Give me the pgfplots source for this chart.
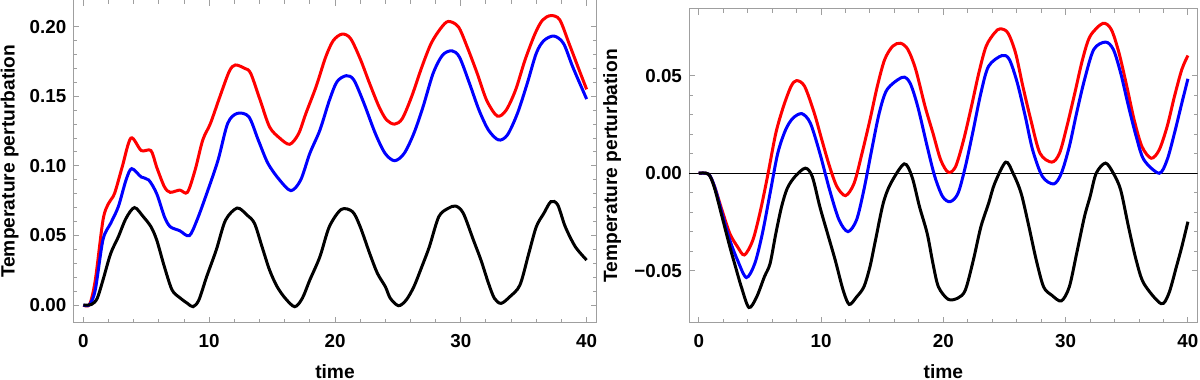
\documentclass[border=0pt]{standalone}
\usepackage{fontspec}
\setmainfont{Liberation Sans}
\usepackage{pgfplots}
\pgfplotsset{compat=1.18}

\pgfplotsset{
  mma/.style={
    scale only axis,
    anchor=south west,
    xmin=-0.8, xmax=40.8,
    xtick={0,10,20,30,40},
    xticklabels={0,10,20,30,40},
    minor x tick num=4,
    minor y tick num=4,
    tick align=inside,
    axis line style={draw=gray!75, line width=0.5pt},
    tick style={draw=gray!75, line width=0.5pt},
    major tick length=2.8pt, minor tick length=1.8pt,
    tick label style={font=\fontsize{9.4}{11}\selectfont\bfseries},
    xticklabel style={anchor=base, yshift=-12.2pt},
    label style={font=\fontsize{9.6}{11}\selectfont\bfseries},
    xlabel={time},
    xlabel style={at={(axis description cs:0.5,0)}, anchor=base, yshift=-27.7pt},
    ylabel={Temperature perturbation},
    every axis plot/.append style={smooth, line width=1.5pt, no markers},
  }
}

\begin{document}
\begin{tikzpicture}
\path[use as bounding box] (0,0) rectangle (600pt,190pt);

% left panel
\begin{axis}[mma,
  at={(36.65pt,28.65pt)}, width=261.7pt, height=161.35pt,
  ymin=-0.0127, ymax=0.2192,
  ytick={0,0.05,0.10,0.15,0.20},
  yticklabels={0.00,0.05,0.10,0.15,0.20},
  ylabel style={at={(axis description cs:-0.1123,0.5)}, anchor=base},
]
\addplot[red] coordinates {
(0,0) (0.5,0.0005) (0.95,0.018) (1.56,0.061) (2.0,0.073) (2.47,0.080) (3.08,0.099)
(3.78,0.120) (4.6,0.111) (5.37,0.111) (5.83,0.099) (6.44,0.085) (6.9,0.081)
(7.66,0.0826) (8.27,0.081) (8.88,0.097) (9.49,0.1186) (10.1,0.1305) (10.86,0.150)
(11.6,0.168) (12.08,0.1725) (12.84,0.170) (13.3,0.1665) (14.06,0.147) (14.8,0.128)
(15.6,0.120) (16.4,0.1155) (17.1,0.123) (17.7,0.138) (18.5,0.157) (19.25,0.178)
(19.86,0.190) (20.56,0.1947) (21.23,0.1916) (22.0,0.177) (22.76,0.159) (23.5,0.1425)
(24.1,0.133) (24.74,0.130) (25.35,0.134) (26.1,0.150) (26.9,0.171) (27.64,0.188)
(28.4,0.1988) (29.0,0.2038) (29.8,0.200) (30.5,0.1856) (31.3,0.1665) (32.06,0.147)
(32.9,0.1358) (33.6,0.140) (34.35,0.1545) (35.1,0.176) (35.9,0.195) (36.5,0.2048)
(37.16,0.208) (37.86,0.205) (38.6,0.188) (39.4,0.169) (40,0.155)
};
\addplot[blue] coordinates {
(0,0) (0.5,0.0003) (0.95,0.011) (1.56,0.047) (2.17,0.0587) (2.78,0.0707) (3.39,0.0898)
(3.84,0.098) (4.6,0.092) (5.2,0.0898) (5.83,0.080) (6.44,0.0635) (6.9,0.0563)
(7.66,0.0534) (8.42,0.0498) (9.03,0.061) (9.8,0.080) (10.7,0.104) (11.47,0.1305)
(12.23,0.1377) (13.15,0.1353) (13.9,0.1186) (14.67,0.1018) (15.6,0.0898) (16.5,0.0822)
(17.27,0.0898) (18.0,0.109) (18.8,0.1257) (19.55,0.147) (20.16,0.1605) (20.9,0.1648)
(21.5,0.1617) (22.3,0.145) (23.2,0.1234) (23.98,0.109) (24.74,0.1037) (25.5,0.109)
(26.27,0.1234) (27.0,0.1425) (27.8,0.1665) (28.55,0.1796) (29.3,0.1827) (29.9,0.178)
(30.7,0.159) (31.45,0.140) (32.2,0.1257) (33.0,0.1186) (33.7,0.1222) (34.5,0.1377)
(35.27,0.159) (36.0,0.181) (36.6,0.190) (37.4,0.1933) (38.16,0.188) (38.9,0.171)
(40,0.148)
};
\addplot[black] coordinates {
(0,0) (0.64,0.0004) (1.1,0.0048) (1.56,0.018) (2.17,0.037) (2.78,0.049) (3.39,0.0623)
(4.06,0.070) (4.76,0.0635) (5.37,0.0563) (5.83,0.0467) (6.44,0.0275) (7.05,0.0108)
(7.66,0.0053) (8.27,0.0012) (8.72,-0.0012) (9.18,0.0036) (9.8,0.0204) (10.56,0.0395)
(11.3,0.061) (12.23,0.0697) (13.0,0.0647) (13.6,0.0587) (14.2,0.0419) (14.8,0.0251)
(15.4,0.0132) (16.05,0.0048) (16.8,-0.0012) (17.4,0.0048) (18.0,0.018) (18.8,0.0347)
(19.55,0.0563) (20.5,0.0687) (21.4,0.067) (22.0,0.0563) (22.76,0.037) (23.37,0.0228)
(24.0,0.0132) (24.4,0.0048) (25.05,-0.0005) (25.66,0.0036) (26.27,0.0132) (26.9,0.0275)
(27.5,0.0419) (28.25,0.0635) (29.0,0.0695) (29.6,0.0711) (30.2,0.0659) (31.0,0.0467)
(31.6,0.0323) (32.2,0.0156) (32.67,0.0048) (33.2,0.0012) (33.9,0.006) (34.7,0.0144)
(35.4,0.037) (36.0,0.0563) (36.6,0.0659) (37.16,0.0743) (37.7,0.072) (38.3,0.0563)
(39.1,0.0419) (40,0.0323)
};
\end{axis}

% right panel
\begin{axis}[mma,
  at={(344.5pt,28.65pt)}, width=254.35pt, height=156.85pt,
  ymin=-0.0768, ymax=0.0844,
  ytick={-0.05,0,0.05},
  yticklabels={−0.05,0.00,0.05},
  ylabel style={at={(axis description cs:-0.1415,0.5)}, anchor=base},
]
\addplot[black, line width=0.5pt, sharp plot] coordinates {(-0.8,0) (40.8,0)};
\addplot[red] coordinates {
(0,0) (0.8,-0.0005) (1.29,-0.0069) (1.9,-0.019) (2.54,-0.031) (3.17,-0.0378)
(3.73,-0.042) (4.42,-0.0344) (5.05,-0.019) (5.67,0.0) (6.3,0.0206) (6.93,0.0344)
(7.55,0.0447) (8.0,0.0476) (8.65,0.0447) (9.44,0.031) (10.06,0.0172) (10.7,0.0034)
(11.3,-0.0069) (12.0,-0.0115) (12.7,-0.0052) (13.35,0.0103) (14.0,0.0275) (14.6,0.0447)
(15.2,0.0584) (15.86,0.0653) (16.5,0.0668) (17.1,0.0636) (17.74,0.0533) (18.5,0.0344)
(19.15,0.0206) (19.78,0.0069) (20.4,0.0005) (21.0,0.0034) (21.66,0.0172) (22.3,0.0344)
(22.9,0.0515) (23.5,0.0653) (24.2,0.0722) (24.64,0.0742) (25.27,0.0722) (25.9,0.0619)
(26.5,0.0447) (27.15,0.0275) (27.9,0.0103) (28.87,0.0057) (29.5,0.0103) (30.1,0.024)
(30.75,0.0412) (31.38,0.0584) (32.0,0.0704) (33.04,0.077) (33.73,0.0739) (34.36,0.0619)
(35.0,0.0447) (35.6,0.0275) (36.24,0.0137) (37.0,0.0077) (37.65,0.012) (38.3,0.024)
(38.9,0.0395) (39.5,0.0533) (40,0.0605)
};
\addplot[blue] coordinates {
(0,0) (0.8,-0.0005) (1.29,-0.0069) (1.9,-0.0206) (2.54,-0.0344) (3.17,-0.0447)
(3.89,-0.0536) (4.58,-0.0464) (5.2,-0.031) (5.83,-0.0103) (6.46,0.0103) (7.1,0.0223)
(7.7,0.0283) (8.43,0.0306) (9.12,0.0258) (9.9,0.0103) (10.7,-0.0086) (11.47,-0.024)
(12.2,-0.030) (12.9,-0.024) (13.5,-0.0086) (14.14,0.012) (14.76,0.031) (15.4,0.043)
(16.65,0.0493) (17.27,0.0464) (17.9,0.0344) (18.68,0.0137) (19.3,-0.0017) (19.94,-0.012)
(20.56,-0.0146) (21.2,-0.0103) (21.8,0.0034) (22.45,0.0223) (23.07,0.0412) (23.7,0.055)
(24.8,0.0605) (25.4,0.0584) (26.05,0.0464) (26.7,0.0292) (27.3,0.012) (28.1,-0.0017)
(29.03,-0.0055) (29.65,0.0) (30.3,0.0137) (30.9,0.031) (31.54,0.048) (32.3,0.0636)
(33.26,0.0674) (33.9,0.0636) (34.5,0.0515) (35.14,0.0344) (35.77,0.0189) (36.4,0.0069)
(37.65,0.0) (38.3,0.0069) (38.9,0.0206) (39.5,0.036) (40,0.0485)
};
\addplot[black] coordinates {
(0,0) (0.8,-0.0005) (1.29,-0.0077) (1.9,-0.0223) (2.54,-0.0378) (3.0,-0.048)
(3.48,-0.0584) (4.1,-0.069) (4.73,-0.0636) (5.36,-0.0533) (5.83,-0.0464) (6.3,-0.031)
(6.77,-0.0172) (7.24,-0.0077) (7.87,-0.0017) (8.71,0.0026) (9.28,-0.0017) (9.9,-0.0172)
(10.53,-0.031) (11.16,-0.0447) (11.8,-0.060) (12.3,-0.0674) (12.9,-0.0636) (13.5,-0.0584)
(14.0,-0.048) (14.45,-0.0344) (15.08,-0.0155) (15.7,-0.0052) (16.8,0.0048) (17.43,-0.0017)
(18.05,-0.0172) (18.68,-0.031) (19.15,-0.0464) (19.6,-0.0584) (20.4,-0.0648) (21.2,-0.0641)
(21.8,-0.060) (22.45,-0.0447) (23.07,-0.0275) (23.7,-0.0155) (24.2,-0.0052) (25.1,0.0057)
(25.7,0.0) (26.36,-0.0103) (27.0,-0.0275) (27.6,-0.0447) (28.2,-0.0584) (28.87,-0.0627)
(29.65,-0.0656) (30.3,-0.0584) (30.9,-0.0412) (31.54,-0.0223) (32.0,-0.012) (32.5,0.0)
(33.26,0.0052) (33.9,0.0) (34.5,-0.0086) (35.14,-0.0275) (35.77,-0.0447) (36.4,-0.0567)
(37.8,-0.067) (38.43,-0.0619) (39.06,-0.048) (39.5,-0.0378) (40,-0.0249)
};
\end{axis}
\end{tikzpicture}
\end{document}
